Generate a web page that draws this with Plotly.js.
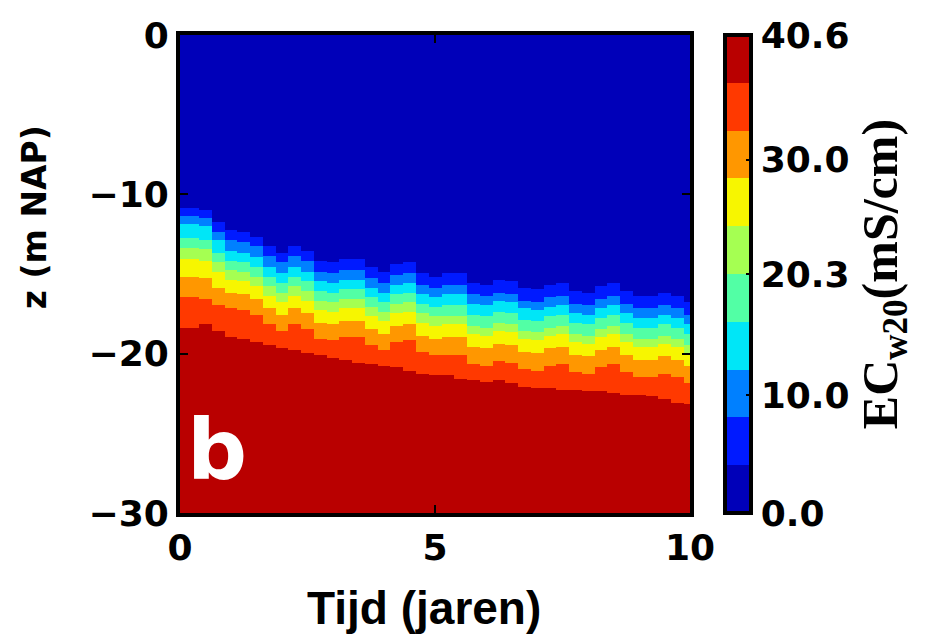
<!DOCTYPE html>
<html>
<head>
<meta charset="utf-8">
<script src="https://cdn.plot.ly/plotly-3.0.1.min.js"></script>
<style>html,body{margin:0;padding:0;background:#fff;}#chart{width:928px;height:640px;}</style>
</head>
<body>
<div id="chart"></div>
<script>
// Time axis (years)
const times = [0,0.25,0.5,0.75,1,1.25,1.5,1.75,2,2.25,2.5,2.75,3,3.25,3.5,3.75,4,4.25,4.5,4.75,5,5.25,5.5,5.75,6,6.25,6.5,6.75,7,7.25,7.5,7.75,8,8.25,8.5,8.75,9,9.25,9.5,9.75,10];

// EC contour levels (mS/cm)
const levels = [0, 4.06, 8.12, 12.18, 16.24, 20.3, 24.36, 28.42, 32.48, 36.54, 40.6];

// Depth (m NAP) of each iso-EC interface through time
const iso406 = [-10.8,-10.8,-10.9,-11.7,-12.2,-12.3,-12.6,-13.2,-13.6,-13.2,-13.5,-14.1,-14.2,-14.0,-14.0,-14.5,-14.8,-14.3,-14.2,-14.9,-15.1,-14.9,-14.9,-15.5,-15.6,-15.3,-15.4,-15.8,-15.9,-15.6,-15.5,-16.0,-16.1,-15.7,-15.5,-16.0,-16.3,-16.3,-16.1,-16.3,-16.7];
const iso812 = [-11.3,-11.3,-11.4,-12.3,-12.8,-12.9,-13.2,-13.8,-14.2,-13.8,-14.1,-14.8,-14.9,-14.7,-14.7,-15.2,-15.5,-15.0,-14.9,-15.6,-15.8,-15.6,-15.6,-16.2,-16.3,-16.1,-16.2,-16.6,-16.7,-16.4,-16.3,-16.8,-16.9,-16.5,-16.3,-16.8,-17.1,-17.1,-16.9,-17.1,-17.5];
const iso1218 = [-11.8,-11.8,-11.9,-12.8,-13.5,-13.6,-13.9,-14.5,-14.9,-14.5,-14.8,-15.4,-15.5,-15.3,-15.3,-15.8,-16.1,-15.6,-15.5,-16.2,-16.4,-16.2,-16.2,-16.8,-16.9,-16.6,-16.7,-17.1,-17.2,-17.0,-16.9,-17.4,-17.5,-17.1,-16.9,-17.4,-17.7,-17.7,-17.5,-17.7,-18.1];
const iso1624 = [-12.7,-12.7,-12.8,-13.6,-14.1,-14.2,-14.5,-15.1,-15.5,-15.1,-15.4,-16.0,-16.1,-15.9,-15.9,-16.4,-16.7,-16.2,-16.1,-16.8,-17.0,-16.9,-16.9,-17.5,-17.6,-17.3,-17.4,-17.8,-17.9,-17.6,-17.5,-18.0,-18.1,-17.7,-17.5,-18.0,-18.3,-18.3,-18.1,-18.3,-18.7];
const iso2030 = [-13.3,-13.3,-13.4,-14.2,-14.7,-14.8,-15.1,-15.7,-16.1,-15.7,-16.0,-16.6,-16.7,-16.5,-16.5,-17.0,-17.3,-16.8,-16.7,-17.4,-17.6,-17.6,-17.6,-18.2,-18.3,-18.0,-18.1,-18.5,-18.6,-18.3,-18.2,-18.7,-18.8,-18.4,-18.2,-18.7,-19.0,-19.0,-18.8,-19.0,-19.4];
const iso2436 = [-14.0,-14.0,-14.1,-14.8,-15.3,-15.4,-15.7,-16.3,-16.7,-16.3,-16.6,-17.2,-17.3,-17.1,-17.1,-17.6,-17.9,-17.4,-17.3,-18.0,-18.2,-18.1,-18.1,-18.7,-18.8,-18.5,-18.6,-19.0,-19.1,-18.8,-18.7,-19.2,-19.3,-18.9,-18.7,-19.2,-19.5,-19.5,-19.3,-19.5,-19.9];
const iso2842 = [-15.1,-15.1,-15.2,-15.8,-16.1,-16.2,-16.5,-17.1,-17.5,-17.1,-17.4,-18.0,-18.1,-17.9,-17.9,-18.4,-18.7,-18.2,-18.1,-18.8,-19.0,-18.9,-18.9,-19.5,-19.6,-19.3,-19.4,-19.8,-19.9,-19.6,-19.5,-20.0,-20.1,-19.7,-19.5,-20.0,-20.3,-20.3,-20.1,-20.3,-20.7];
const iso3248 = [-16.4,-16.4,-16.5,-16.9,-17.1,-17.2,-17.5,-18.1,-18.5,-18.1,-18.4,-19.0,-19.1,-18.9,-18.9,-19.4,-19.7,-19.2,-19.1,-19.8,-20.0,-20.0,-20.0,-20.6,-20.7,-20.4,-20.5,-20.9,-21.0,-20.7,-20.6,-21.1,-21.2,-20.8,-20.6,-21.1,-21.4,-21.4,-21.2,-21.4,-21.8];
const iso3654 = [-18.3,-18.3,-18.1,-18.5,-18.9,-19.0,-19.2,-19.4,-19.6,-19.7,-19.9,-20.0,-20.2,-20.3,-20.5,-20.6,-20.7,-20.8,-21.0,-21.2,-21.3,-21.3,-21.5,-21.6,-21.7,-21.6,-21.8,-22.0,-22.1,-22.1,-22.2,-22.2,-22.3,-22.3,-22.4,-22.5,-22.5,-22.6,-22.8,-23.0,-23.1];

// Colorbar ticks
const cbTickVals = [0, 10.0, 20.3, 30.0, 40.6];
const cbTickText = ['0.0', '10.0', '20.3', '30.0', '40.6'];

// jet colours for the 10 bands
const bandColors = ['rgb(0,0,185)','rgb(0,26,255)','rgb(0,128,255)','rgb(0,230,247)','rgb(82,255,165)',
                    'rgb(165,255,82)','rgb(247,246,0)','rgb(255,151,0)','rgb(255,57,0)','rgb(185,0,0)'];

const interfaces = [iso406, iso812, iso1218, iso1624, iso2030, iso2436, iso2842, iso3248, iso3654];

// depth grid for the field
const depths = [];
for (let i = 0; i <= 300; i++) depths.push(-i / 10);

const zField = depths.map(d => times.map((t, j) => {
  let k = 0;
  interfaces.forEach(arr => { if (d < arr[j]) k++; });
  return (levels[k] + levels[k + 1]) / 2;
}));

const colorscale = [];
bandColors.forEach((c, k) => {
  colorscale.push([k / bandColors.length, c]);
  colorscale.push([(k + 1) / bandColors.length, c]);
});

const tickFont = {family: 'DejaVu Sans', size: 36, color: '#000', weight: 'bold'};

const trace = {
  type: 'heatmap',
  x: times,
  y: depths,
  z: zField,
  zmin: levels[0],
  zmax: levels[levels.length - 1],
  colorscale: colorscale,
  zsmooth: false,
  hoverinfo: 'skip',
  colorbar: {
    x: 1.066, xanchor: 'left', xpad: 0,
    y: 0.5, yanchor: 'middle', ypad: 0,
    len: 1, lenmode: 'fraction',
    thickness: 26,
    outlinecolor: '#000', outlinewidth: 4,
    tickmode: 'array', tickvals: cbTickVals, ticktext: cbTickText,
    ticks: 'inside', ticklen: 7, tickwidth: 2, tickcolor: '#000',
    tickfont: tickFont,
    title: {text: 'EC<sub>w20</sub>(mS/cm)', side: 'right',
            font: {family: 'Liberation Serif', size: 50, color: '#000', weight: 'bold'}}
  }
};

const layout = {
  width: 928, height: 640,
  margin: {l: 180, r: 237, t: 35, b: 127},
  paper_bgcolor: '#fff', plot_bgcolor: '#fff',
  xaxis: {
    range: [0, 10], tickmode: 'array', tickvals: [0, 5, 10],
    ticks: 'inside', ticklen: 8, tickwidth: 2, tickcolor: '#000',
    showline: true, linewidth: 4, linecolor: '#000', mirror: 'ticks',
    showgrid: false, zeroline: false,
    tickfont: tickFont
  },
  yaxis: {
    range: [-30, 0], tickmode: 'array', tickvals: [-30, -20, -10, 0],
    ticks: 'inside', ticklen: 8, tickwidth: 2, tickcolor: '#000',
    showline: true, linewidth: 4, linecolor: '#000', mirror: 'ticks',
    showgrid: false, zeroline: false,
    tickfont: tickFont
  },
  annotations: [
    {text: 'z (m NAP)', xref: 'paper', yref: 'paper', x: -0.286, y: 0.619,
     xanchor: 'center', yanchor: 'middle', textangle: -90, showarrow: false,
     font: {family: 'DejaVu Sans', size: 33, color: '#000', weight: 'bold'}},
    {text: 'Tijd (jaren)', xref: 'paper', yref: 'paper', x: 0.479, y: -0.199,
     xanchor: 'center', yanchor: 'middle', showarrow: false,
     font: {family: 'Liberation Sans', size: 46, color: '#000', weight: 'bold'}},
    {text: 'b', xref: 'paper', yref: 'paper', x: 0.072, y: 0.132,
     xanchor: 'center', yanchor: 'middle', showarrow: false,
     font: {family: 'DejaVu Sans', size: 84, color: '#fff', weight: 'bold'}}
  ]
};

Plotly.newPlot('chart', [trace], layout, {displayModeBar: false, staticPlot: true});
</script>
</body>
</html>
